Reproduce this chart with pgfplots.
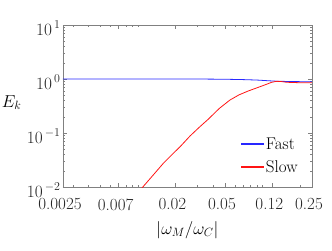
\documentclass[border=0pt]{standalone}
\usepackage{pgfplots}
\pgfplotsset{compat=1.18}
\definecolor{fastblue}{RGB}{40,40,255}
\definecolor{slowred}{RGB}{255,20,20}
\begin{document}
\begin{tikzpicture}[x=1pt,y=1pt]
\path[use as bounding box] (-63,-63) rectangle (269,187);
\begin{axis}[
  at={(0,0)}, anchor=south west,
  scale only axis, width=249pt, height=162pt,
  xmode=log, ymode=log,
  xmin=0.0025, xmax=0.25, ymin=0.01, ymax=10,
  xtick={0.0025,0.007,0.02,0.05,0.12,0.25},
  xticklabels={0.0025,0.007,0.02,0.05,0.12,0.25},
  minor xtick={0.003,0.004,0.005,0.006,0.008,0.009,0.01,0.03,0.04,0.06,0.07,0.08,0.09,0.1,0.2},
  ytick={0.01,0.1,1,10},
  yticklabels={$10^{\,\mathrm{-2}}$,$10^{\,\mathrm{-1}}$,$10^{\,0}$,$10^{\,1}$},
  tick align=inside,
  major tick length=4pt, minor tick length=2pt,
  every tick/.style={gray},
  axis line style={gray},
  tick label style={font=\fontsize{17}{19}\selectfont, text=black!85},
  yticklabel style={yshift=-3pt, xshift=1pt},
  xticklabel style={yshift=-8pt, xshift=-3pt},
  label style={font=\fontsize{17}{19}\selectfont},
  xlabel={$|\omega_M/\omega_C|$},
  ylabel={$E_k$},
  ylabel style={rotate=-90, at={(axis description cs:-0.206,0.52)}, anchor=center},
  xlabel style={yshift=-4pt},
  legend style={font=\fontsize{17}{19}\selectfont, draw=none,
    at={(axis description cs:0.955,0.06)}, anchor=south east,
    row sep=6pt, inner sep=1pt},
  legend cell align=left,
  legend image code/.code={\fill[#1] (0pt,-0.5pt) rectangle (22pt,0.5pt);},
  clip=true,
]
\addplot[draw=fastblue, line width=0.8pt, legend image post style={draw=none, fill=fastblue!75}] coordinates {
(0.0025,1.0) (0.01,1.0) (0.03,1.0) (0.05,0.99) (0.07,0.975) (0.09,0.957) (0.11,0.93) (0.13,0.91) (0.18,0.895) (0.25,0.89)
};
\addlegendentry{Fast}
\addplot[draw=slowred, line width=0.8pt, legend image post style={draw=none, fill=slowred!85}] coordinates {
(0.009,0.0062) (0.0109,0.0099) (0.0133,0.0168) (0.016,0.0275) (0.019,0.041) (0.0218,0.0557) (0.0262,0.088) (0.031,0.127) (0.0367,0.18) (0.045,0.285) (0.0548,0.408) (0.065,0.51) (0.0769,0.60) (0.0955,0.72) (0.108,0.80) (0.1186,0.87) (0.130,0.906) (0.14,0.9) (0.157,0.87) (0.200,0.853) (0.25,0.853)
};
\addlegendentry{Slow}
\end{axis}
\end{tikzpicture}
\end{document}
